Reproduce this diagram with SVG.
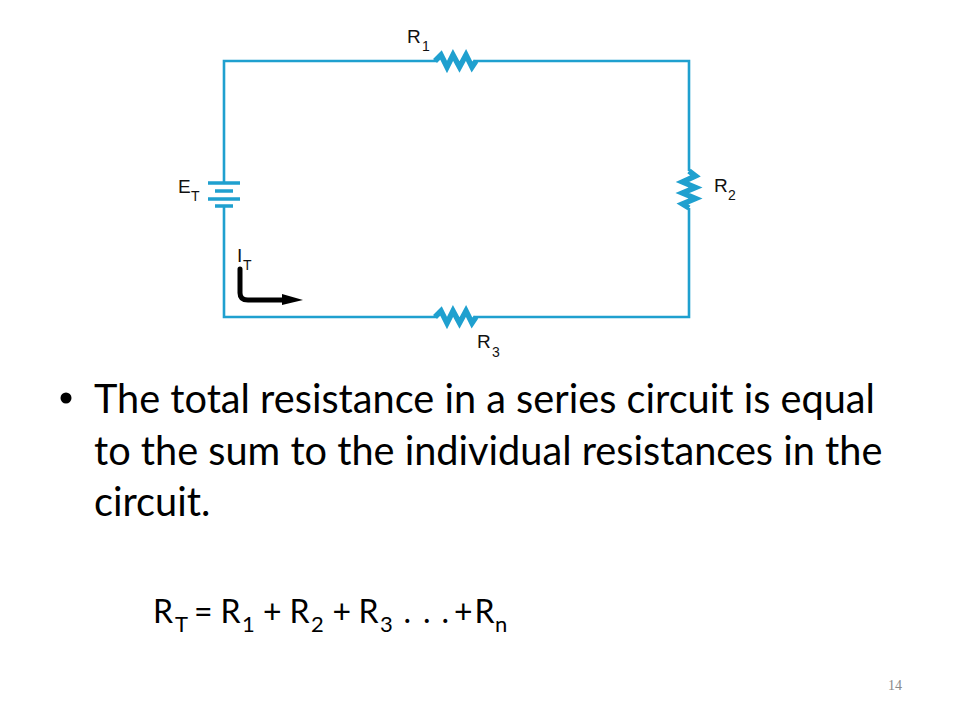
<svg xmlns="http://www.w3.org/2000/svg" width="960" height="720" viewBox="0 0 960 720">
<style>
.w{fill:none;stroke:#1fa0cf;stroke-width:2.6}
.z{fill:none;stroke:#1fa0cf;stroke-width:5.500;stroke-linejoin:miter;stroke-miterlimit:6}
.p{fill:none;stroke:#1fa0cf;stroke-width:3.400}
.l{font-family:"Liberation Sans",Arial,sans-serif;font-size:19px;fill:#111}
.s{font-family:"Liberation Sans",Arial,sans-serif;font-size:14px;fill:#111}
.b{font-family:Lato,"Open Sans",sans-serif;font-size:39.700px;fill:#000}
.m{font-family:Lato,"Open Sans",sans-serif;font-size:32px;fill:#000}
.mm{font-size:22px}
</style>
<rect width="960" height="720" fill="#fff"/>
<g id="connectors">
<path class="w" d="M224 183V61H436M474 61H689V171M689 208V317H474M436 317H224V206"/>
</g>
<g id="R1">
<path class="z" d="M435 61L441 55L447 67L453 55L459.500 67L466 55L472 67L476 61"/>
<text class="l" x="407" y="43">R</text><text class="s" x="422" y="51">1</text>
</g>
<g id="R2">
<path class="z" d="M689 171L695.500 176L682.500 182L695.500 187.500L682.500 193L695.500 198.500L682.500 204L689 208"/>
<text class="l" x="714" y="192">R</text><text class="s" x="728" y="200">2</text>
</g>
<g id="R3">
<path class="z" d="M435 317L441 311L447 323L453 311L459.500 323L466 311L472 323L476 317"/>
<text class="l" x="477" y="348">R</text><text class="s" x="492" y="357">3</text>
</g>
<g id="ET">
<path class="p" d="M208 183H240M215 191H233M208 199H240M215 206H233"/>
<text class="l" x="178" y="193">E</text><text class="s" x="191" y="201">T</text>
</g>
<g id="IT">
<path d="M240 269V293Q240 300 248 300H284" fill="none" stroke="#000" stroke-width="5" stroke-linecap="round"/>
<path d="M282 294L303 300L282 305Z" fill="#000"/>
<text class="l" x="237" y="262">I</text><text class="s" x="243" y="270">T</text>
</g>
<g id="body">
<circle cx="66" cy="398" r="5.500" fill="#000"/>
<text class="b" x="94" y="413">The total resistance in a series circuit is equal</text>
<text class="b" x="94" y="464.500">to the sum to the individual resistances in the</text>
<text class="b" x="94" y="516">circuit.</text>
<text class="m" y="623" xml:space="preserve"><tspan x="153">R</tspan><tspan class="mm" x="175" y="632">T</tspan><tspan x="194" y="623">=</tspan><tspan x="220.500">R</tspan><tspan class="mm" x="242" y="632">1</tspan><tspan x="263" y="623">+</tspan><tspan x="289.500">R</tspan><tspan class="mm" x="311" y="632">2</tspan><tspan x="332.500" y="623">+</tspan><tspan x="358.500">R</tspan><tspan class="mm" x="380" y="632">3</tspan><tspan x="403.500" y="623">.</tspan><tspan x="423">.</tspan><tspan x="441.500">.</tspan><tspan x="454">+</tspan><tspan x="474.500">R</tspan><tspan class="mm" x="495" y="632">n</tspan></text>
<text x="895" y="690" text-anchor="middle" font-family="Liberation Serif,serif" font-size="14" fill="#8a8a8a">14</text>
</g>
</svg>
